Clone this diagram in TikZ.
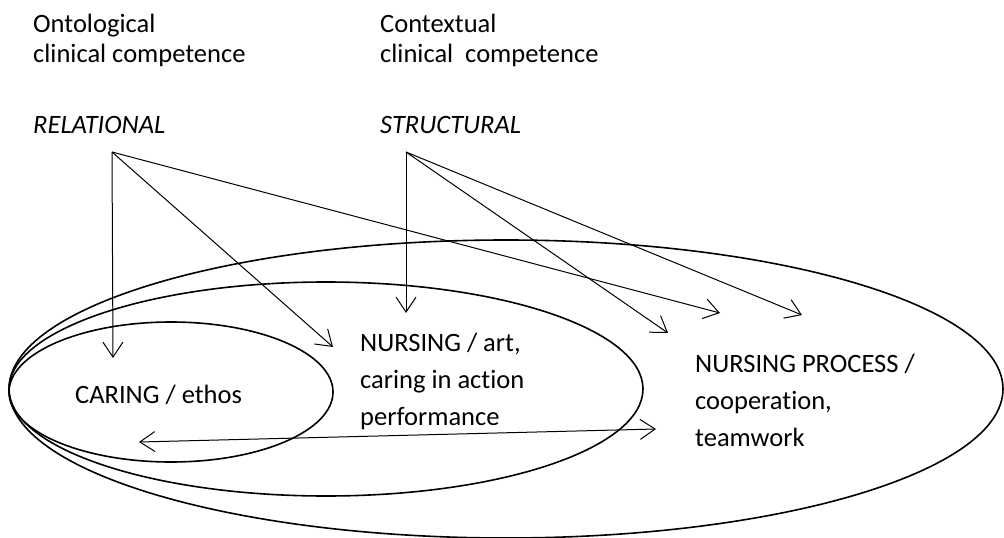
\documentclass[tikz,border=0pt]{standalone}
\usepackage{fontspec}
\setmainfont{Carlito}[Ligatures=NoCommon]
\usetikzlibrary{arrows.meta}
\begin{document}
\begin{tikzpicture}[x=1pt,y=-1pt,
  lbl/.style={inner sep=0pt, anchor=base west, font=\fontsize{26.5}{30}\selectfont},
  ilbl/.style={lbl, font=\fontsize{26.5}{30}\selectfont\itshape},
  conn/.style={line width=1pt, -{Straight Barb[length=15pt,width=20pt]}},
  biconn/.style={line width=1pt, {Straight Barb[length=15pt,width=20pt]}-{Straight Barb[length=15pt,width=20pt]}},
  ring/.style={line width=1.6pt}]
\useasboundingbox (0,0) rectangle (1004,538);
% nested ellipses
\draw[ring] (506,389) ellipse [x radius=497, y radius=149];
\draw[ring] (326,389) ellipse [x radius=317, y radius=107];
\draw[ring] (171,392) ellipse [x radius=162, y radius=70];
% headings
\node[lbl] (ont1) at (33,32) {Ontological};
\node[lbl] (ont2) at (33,62) {clinical competence};
\node[lbl] (con1) at (380,32) {Contextual};
\node[lbl] (con2) at (380,62) {clinical\ \ competence};
\node[ilbl] (rel) at (33,133) {RELATIONAL};
\node[ilbl] (str) at (380,133) {STRUCTURAL};
% ellipse texts
\node[lbl] (caring) at (75,403) {CARING / ethos};
\node[lbl] (nurs1) at (360,351) {NURSING / art,};
\node[lbl] (nurs2) at (360,388) {caring in action};
\node[lbl] (nurs3) at (360,425) {performance};
\node[lbl] (proc1) at (695,372) {NURSING PROCESS /};
\node[lbl] (proc2) at (695,409) {cooperation,};
\node[lbl] (proc3) at (695,446) {teamwork};
% connector ends
\coordinate (relsrc) at (112,152);
\coordinate (strsrc) at (406,152);
\coordinate (tcaring) at (113,358);
\coordinate (tnursR) at (333,347);
\coordinate (tprocR) at (720,313);
\coordinate (tnursS) at (406,313);
\coordinate (tprocS1) at (668,333);
\coordinate (tprocS2) at (802,315);
\coordinate (bL) at (139,442);
\coordinate (bR) at (656,429);
% connectors
\draw[conn] (relsrc) -- (tcaring);
\draw[conn] (relsrc) -- (tnursR);
\draw[conn] (relsrc) -- (tprocR);
\draw[conn] (strsrc) -- (tnursS);
\draw[conn] (strsrc) -- (tprocS1);
\draw[conn] (strsrc) -- (tprocS2);
\draw[biconn] (bL) -- (bR);
\end{tikzpicture}
\end{document}
